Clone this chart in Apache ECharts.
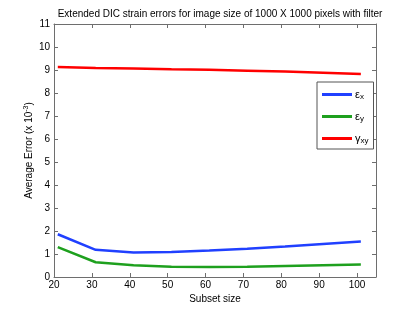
<!DOCTYPE html>
<html><head><meta charset="utf-8">
<script src="https://cdn.jsdelivr.net/npm/echarts@6/dist/echarts.min.js"></script>
<style>html,body{margin:0;padding:0;background:#fff}#c{width:415px;height:313px}</style>
</head><body><div id="c"></div>
<script>
const subsetSizes = [21, 31, 41, 51, 61, 71, 81, 91, 101];
const epsX = [1.86, 1.18, 1.07, 1.09, 1.15, 1.23, 1.33, 1.44, 1.54];
const epsY = [1.30, 0.64, 0.51, 0.45, 0.44, 0.45, 0.48, 0.51, 0.54];
const gammaXY = [9.13, 9.09, 9.07, 9.03, 9.01, 8.97, 8.93, 8.88, 8.83];
const xTicks = [20, 30, 40, 50, 60, 70, 80, 90, 100];
const seriesNames = ['εx', 'εy', 'γxy'];
const titleText = 'Extended DIC strain errors for image size of 1000 X 1000 pixels with filter';

const font = 'Liberation Sans, Arial, sans-serif';
const axisColor = '#6e6e6e';
const pair = a => a.map((v, i) => [subsetSizes[i], v]);
const legendRich = {
  g: {fontFamily: font, fontSize: 11, color: '#000', lineHeight: 13},
  s: {fontFamily: font, fontSize: 8, color: '#000', verticalAlign: 'bottom', lineHeight: 13, padding: [8, 0, 0, 0]}
};
const base = {
  axisLine: {show: true, onZero: false, lineStyle: {color: axisColor, width: 1}},
  splitLine: {show: false}
};
const chart = echarts.init(document.getElementById('c'), null, {renderer: 'canvas'});
chart.setOption({
  animation: false,
  backgroundColor: '#fff',
  title: {text: titleText, left: 215, top: 4, textAlign: 'center',
    textStyle: {fontFamily: font, fontSize: 10, fontWeight: 'normal', color: '#000'}},
  grid: {left: 54, right: 39, top: 24, bottom: 36, containLabel: false},
  xAxis: [
    Object.assign({}, base, {type: 'value', min: 20, max: 105, interval: 10, position: 'bottom',
      name: 'Subset size', nameLocation: 'middle', nameGap: 17, nameMoveOverlap: false,
      nameTextStyle: {fontFamily: font, fontSize: 10, color: '#000'},
      axisTick: {show: true, inside: true, length: 4, customValues: xTicks, lineStyle: {color: axisColor}},
      axisLabel: {fontFamily: font, fontSize: 10, color: '#000', margin: 3, customValues: xTicks}}),
    Object.assign({}, base, {type: 'value', min: 20, max: 105, interval: 10, position: 'top',
      axisTick: {show: true, inside: true, length: 4, customValues: xTicks, lineStyle: {color: axisColor}},
      axisLabel: {show: false}})
  ],
  yAxis: [
    Object.assign({}, base, {type: 'value', min: 0, max: 11, interval: 1, position: 'left',
      name: 'Average Error (x 10{sup|-3})', nameLocation: 'middle', nameGap: 18, nameMoveOverlap: false,
      nameTextStyle: {fontFamily: font, fontSize: 10, color: '#000',
        rich: {sup: {fontFamily: font, fontSize: 7, color: '#000', verticalAlign: 'top', padding: [0, 0, 6, 0]}}},
      axisTick: {show: true, inside: true, length: 4, lineStyle: {color: axisColor}},
      axisLabel: {fontFamily: font, fontSize: 10, color: '#000', margin: 4}}),
    Object.assign({}, base, {type: 'value', min: 0, max: 11, interval: 1, position: 'right',
      axisTick: {show: true, inside: true, length: 4, lineStyle: {color: axisColor}},
      axisLabel: {show: false}})
  ],
  legend: {
    orient: 'vertical', left: 317, top: 82,
    padding: [3, 5, 4, 5], itemGap: 6, itemWidth: 30, itemHeight: 3,
    borderColor: '#555', borderWidth: 1, backgroundColor: '#fff',
    icon: 'rect',
    data: seriesNames,
    formatter: n => n === 'εx' ? '{g|ε}{s|x}' : n === 'εy' ? '{g|ε}{s|y}' : '{g|γ}{s|xy}',
    textStyle: {rich: legendRich, padding: [0, 0, 0, -2]}
  },
  series: [
    {name: seriesNames[0], type: 'line', data: pair(epsX), showSymbol: false, symbol: 'none',
      lineStyle: {color: '#2040ff', width: 2.5}, itemStyle: {color: '#2040ff'}},
    {name: seriesNames[1], type: 'line', data: pair(epsY), showSymbol: false, symbol: 'none',
      lineStyle: {color: '#1ea01e', width: 2.5}, itemStyle: {color: '#1ea01e'}},
    {name: seriesNames[2], type: 'line', data: pair(gammaXY), showSymbol: false, symbol: 'none',
      lineStyle: {color: '#ff0000', width: 2.5}, itemStyle: {color: '#ff0000'}}
  ]
});
</script></body></html>
